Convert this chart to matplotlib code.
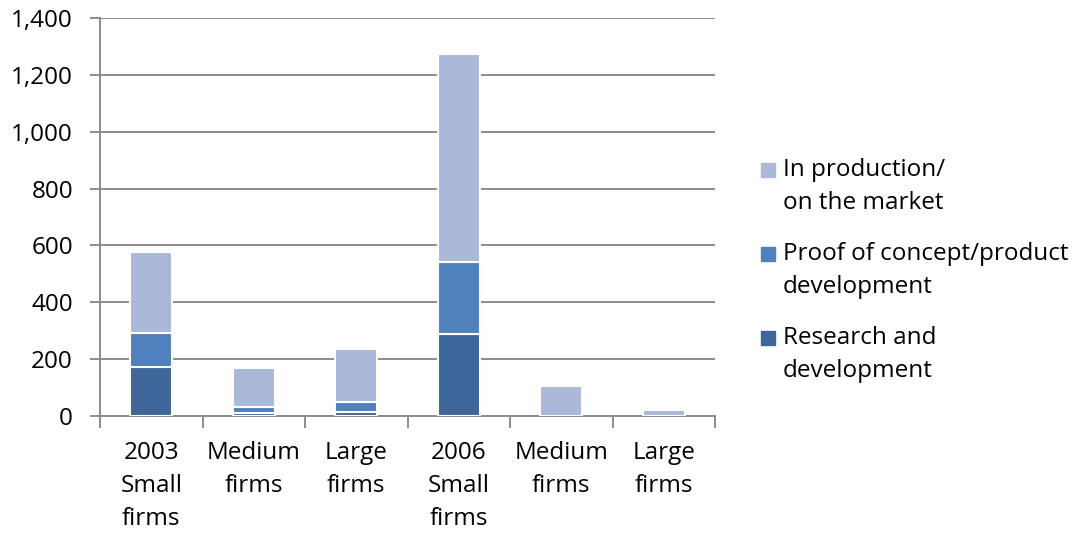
import numpy as np
import matplotlib.pyplot as plt
from matplotlib.patches import Rectangle

cats = ['2003\nSmall\nfirms', 'Medium\nfirms', 'Large\nfirms', '2006\nSmall\nfirms', 'Medium\nfirms', 'Large\nfirms']
rnd = [173, 10, 15, 290, 0, 0]
proof = [118, 20, 35, 252, 0, 0]
prod = [287, 140, 185, 733, 105, 22]

series = ['Research and\ndevelopment', 'Proof of concept/product\ndevelopment', 'In production/\non the market']
colors = ['#3E6699', '#4F81BD', '#A9B9D7']

plt.rcParams['font.family'] = ['Open Sans', 'DejaVu Sans']

fig = plt.figure(figsize=(10.78, 5.33), dpi=100)
ax = fig.add_axes([100/1078, 1-416/533, 615/1078, 398/533])

x = np.arange(len(cats))
bottom = np.zeros(len(cats))
for vals, c in zip([rnd, proof, prod], colors):
    ax.bar(x, vals, 0.41, bottom=bottom, color=c, edgecolor='white', linewidth=1.5, zorder=3)
    bottom += np.array(vals)

grey = '#8c8c8c'
ax.set_xlim(-0.5, len(cats) - 0.5)
ax.set_ylim(0, 1400)
ax.set_yticks(np.arange(0, 1401, 200))
ax.set_yticklabels([f'{v:,}' for v in range(0, 1401, 200)], fontsize=17.5)
ax.yaxis.grid(True, color=grey, linewidth=1.4, zorder=0)
ax.set_xticks(x)
ax.set_xticklabels(cats, fontsize=17.5, linespacing=1.5)
ax.set_xticks(np.arange(-0.5, len(cats)), minor=True)
ax.tick_params(axis='x', which='major', length=0, pad=18)
ax.tick_params(axis='x', which='minor', length=8.5, color=grey, width=1.4)
ax.tick_params(axis='y', length=7.5, color=grey, width=1.4, pad=12)
for s in ['top', 'right']:
    ax.spines[s].set_visible(False)
for s in ['left', 'bottom']:
    ax.spines[s].set_color(grey)
    ax.spines[s].set_linewidth(1.4)

# legend, top entry first, marker beside the first line of each label
W, H = 1078, 533
for i, (c, lab) in enumerate(zip(colors[::-1], series[::-1])):
    yc = 170 + 84 * i
    fig.add_artist(Rectangle((761 / W, 1 - (yc + 7) / H), 14 / W, 14 / H,
                             transform=fig.transFigure, color=c))
    fig.text(783 / W, 1 - (yc - 12) / H, lab, fontsize=17.5, va='top', ha='left',
             linespacing=1.5)

fig.savefig('out.png', dpi=100)
